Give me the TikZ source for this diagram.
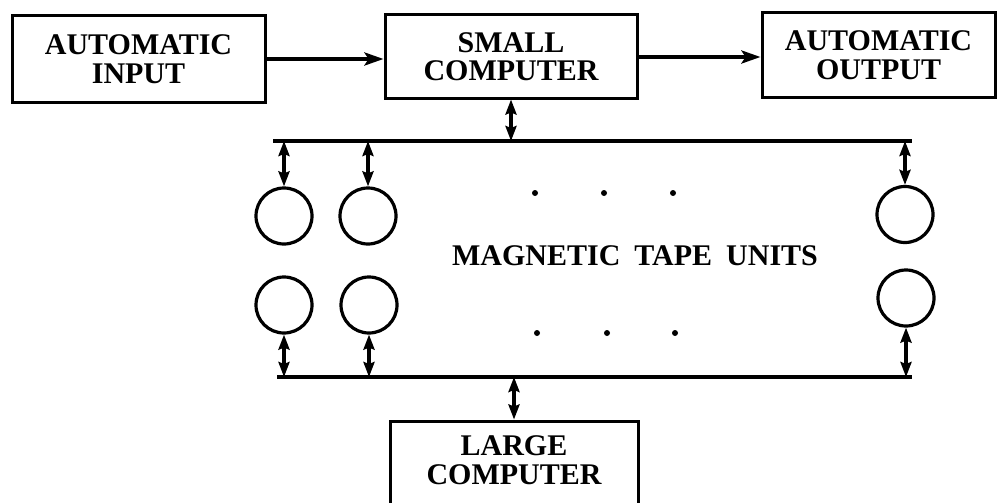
\documentclass[tikz,border=0pt]{standalone}
\usepackage{fontspec}
\setmainfont{Liberation Serif}
\usetikzlibrary{arrows.meta}
\newcommand{\boxfont}{\bfseries\fontsize{30}{28.5}\selectfont}
\newcommand{\labfont}{\bfseries\fontsize{30}{30}\selectfont}
\tikzset{
  block/.style={draw, line width=3pt, inner sep=0pt, align=center, font=\boxfont},
  bus/.style={line width=4.4pt},
  flow/.style={line width=3.6pt, -{Stealth[length=19pt,width=13pt,inset=4pt]}},
  link/.style={line width=3.6pt, {Stealth[length=15pt,width=11pt,inset=2pt]}-{Stealth[length=15pt,width=11pt,inset=2pt]}},
  tape/.style={circle, draw, line width=3.2pt, minimum size=56pt, inner sep=0pt},
  dotmark/.style={circle, fill, inner sep=0pt, minimum size=6pt}
}
\begin{document}
\begin{tikzpicture}[x=1pt,y=-1pt]
\useasboundingbox (0,0) rectangle (998,503);
\clip (0,0) rectangle (998,503);
% boxes
\node[block, minimum width=253pt, minimum height=86pt] (ain) at (138.5,59) {AUTOMATIC\\INPUT};
\node[block, minimum width=252pt, minimum height=83pt] (small) at (511,56.5) {SMALL\\COMPUTER};
\node[block, minimum width=233pt, minimum height=84pt] (aout) at (878.5,55) {AUTOMATIC\\OUTPUT};
\node[block, minimum width=248pt, minimum height=92pt] (large) at (514,467) {};
\node[font=\boxfont, align=center, inner sep=0pt] (largetext) at (514,460) {LARGE\\COMPUTER};
% horizontal flow
\draw[flow] (ain.east |- 0,59) -- (small.west |- 0,59);
\draw[flow] (small.east |- 0,57) -- (aout.west |- 0,57);
% buses
\coordinate (busTL) at (273,141);
\coordinate (busTR) at (912,141);
\coordinate (busBL) at (277,377);
\coordinate (busBR) at (912,377);
\draw[bus] (busTL) -- (busTR);
\draw[bus] (busBL) -- (busBR);
% tape units
\node[tape] (t1) at (284,216) {};
\node[tape] (t2) at (368,216) {};
\node[tape] (t3) at (905,214.5) {};
\node[tape] (b1) at (284,305) {};
\node[tape] (b2) at (369,305) {};
\node[tape] (b3) at (906,298) {};
% links
\draw[link] (small.south) -- (small.south |- busTL);
\draw[link] (large.north |- busBL) -- (large.north);
\draw[link] (t1.north |- busTL) -- (t1.north);
\draw[link] (t2.north |- busTL) -- (t2.north);
\draw[link] (t3.north |- busTL) -- (t3.north);
\draw[link] (b1.south) -- (b1.south |- busBL);
\draw[link] (b2.south) -- (b2.south |- busBL);
\draw[link] (b3.south) -- (b3.south |- busBL);
% label
\node[font=\labfont, inner sep=0pt] (mtu) at (635,256) {MAGNETIC\hspace{14pt}TAPE\hspace{14pt}UNITS};
% dots
\node[dotmark] (d1) at (535,193) {};
\node[dotmark] (d2) at (604,193) {};
\node[dotmark] (d3) at (673,193) {};
\node[dotmark] (d4) at (537,333) {};
\node[dotmark] (d5) at (607,333) {};
\node[dotmark] (d6) at (675,333) {};
\end{tikzpicture}
\end{document}
